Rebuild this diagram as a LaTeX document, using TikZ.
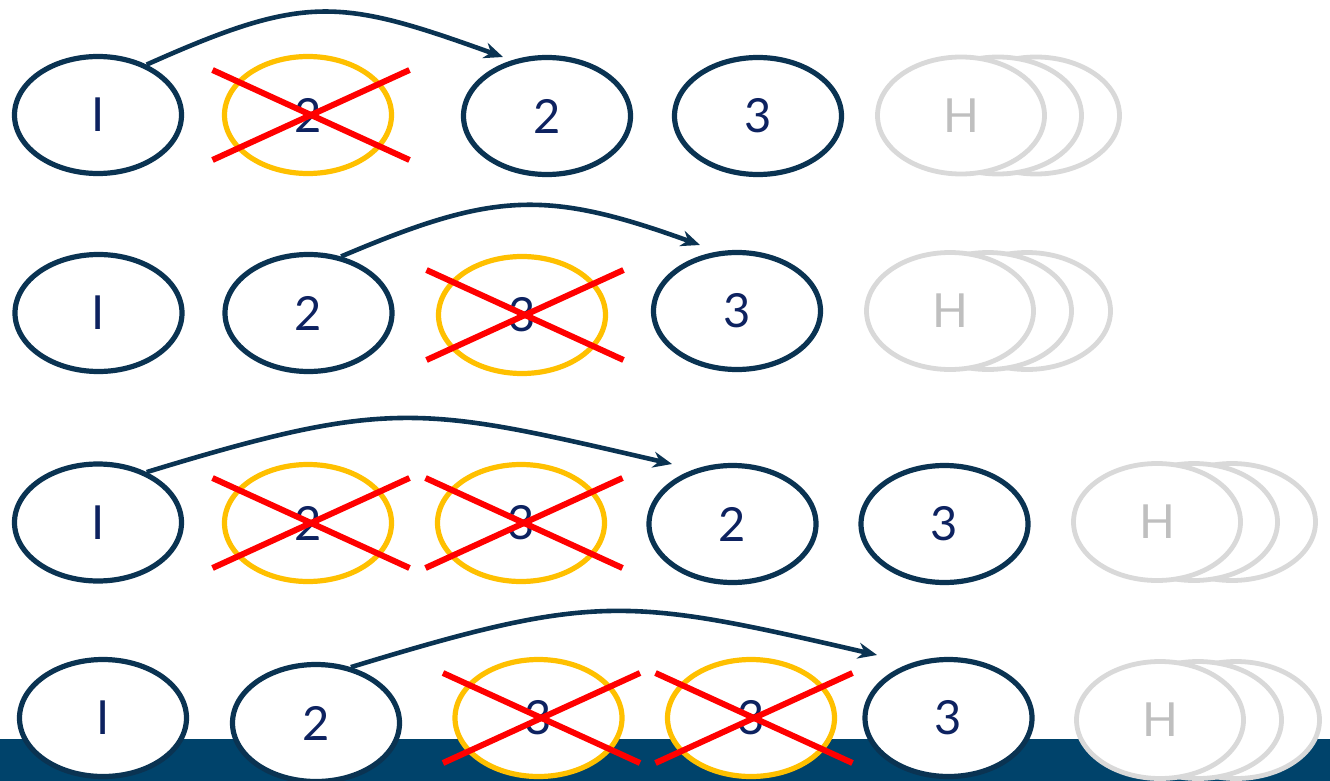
\documentclass[tikz,border=0pt]{standalone}
\usepackage{fontspec}
\setmainfont{Lato}
\usetikzlibrary{shapes.geometric,arrows.meta,calc}
\definecolor{outl}{HTML}{0A3352}
\definecolor{txt}{HTML}{0D2260}
\definecolor{gold}{HTML}{FFC000}
\definecolor{xred}{HTML}{FF0000}
\definecolor{lgray}{HTML}{D9D9D9}
\definecolor{hgray}{HTML}{BFBFBF}
\definecolor{bandc}{HTML}{00436B}
\newcommand{\numfont}{\fontsize{47}{47}\selectfont}
\tikzset{
  st/.style={ellipse, draw=outl, line width=5.2pt, fill=white, minimum width=167pt, minimum height=117pt, inner sep=0pt, text=txt, font=\numfont},
  gone/.style={st, draw=gold},
  ghost/.style={st, draw=lgray, line width=4.8pt, text=hgray},
  arr/.style={draw=outl, line width=4.6pt, -{Stealth[length=19pt,width=16pt]}},
  xline/.style={draw=xred, line width=6pt},
}
\begin{document}
\begin{tikzpicture}[x=1pt,y=-1pt]
\useasboundingbox (0,0) rectangle (1330,781);
\fill[bandc] (0,739) rectangle (1330,781);

% Row 1
\node[st] (r1a) at (98,115) {I};
\node[gone] (r1b) at (308,115) {2};
\node[st] (r1c) at (547,116) {2};
\node[st] (r1d) at (758,116) {3};
\node[ghost] (r1g3) at (1036,115.5) {};
\node[ghost] (r1g2) at (998,115.5) {};
\node[ghost] (r1g1) at (961,115.5) {H};

% Row 2
\node[st] (r2a) at (98.5,313) {I};
\node[st] (r2b) at (308.5,313) {2};
\node[gone] (r2c) at (522,315) {3};
\node[st] (r2d) at (737,311) {3};
\node[ghost] (r2g3) at (1027,311) {};
\node[ghost] (r2g2) at (988,311) {};
\node[ghost] (r2g1) at (950,311) {H};

% Row 3
\node[st] (r3a) at (98,522.5) {I};
\node[gone] (r3b) at (308,523) {2};
\node[gone] (r3c) at (521,523) {3};
\node[st] (r3d) at (732.5,524) {2};
\node[st] (r3e) at (944.5,524) {3};
\node[ghost] (r3g3) at (1232,522) {};
\node[ghost] (r3g2) at (1194,522) {};
\node[ghost] (r3g1) at (1157,522) {H};

% Row 4
\node[st] (r4a) at (103,718) {I};
\node[st] (r4b) at (316,723) {2};
\node[gone] (r4c) at (538.5,718) {3};
\node[gone] (r4d) at (751,718) {3};
\node[st] (r4e) at (948.5,718) {3};
\node[ghost] (r4g3) at (1236,720) {};
\node[ghost] (r4g2) at (1198,720) {};
\node[ghost] (r4g1) at (1160,720) {H};

% crosses
\foreach \n in {r1b,r2c,r3b,r3c,r4c,r4d}{
  \draw[xline] ($(\n.center)+(-95.5,-45)$) -- ($(\n.center)+(101.5,45)$);
  \draw[xline] ($(\n.center)+(-95.5,45)$) -- ($(\n.center)+(101.5,-45)$);
}

% arrows
\draw[arr] (r1a.46) .. controls +(159,-71) and +(-164,-59) .. ($(r1c.center)+(-44,-59)$);
\draw[arr] (r2b.60) .. controls +(152,-64.5) and +(-155,-56) .. ($(r2d.center)+(-37,-66)$);
\draw[arr] (r3a.46) .. controls +(245.7,-75) and +(-250,-57.8) .. ($(r3d.center)+(-60.5,-60)$);
\draw[arr] (r4b.58) .. controls +(245.7,-75) and +(-250,-57.8) .. ($(r4e.center)+(-71.5,-63)$);
\end{tikzpicture}
\end{document}
